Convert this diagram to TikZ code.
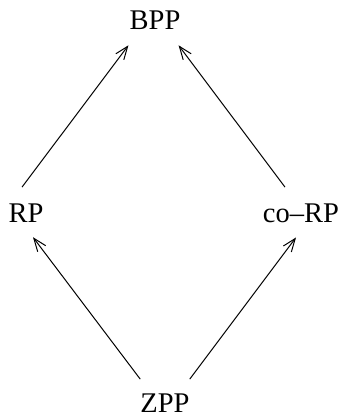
\documentclass[tikz,border=0pt]{standalone}
\usepackage{fontspec}
\setmainfont{Liberation Serif}
\usetikzlibrary{arrows.meta}
\begin{document}
\begin{tikzpicture}[x=1pt,y=-1pt,
  cls/.style={inner sep=0pt, anchor=base, font=\fontsize{28.5}{34}\selectfont},
  incl/.style={line width=1pt, -{Straight Barb[length=13pt,width=10pt,line width=1pt]}}]
  \useasboundingbox (0,0) rectangle (342,417);
  \node[cls] (BPP)  at (155,30)  {BPP};
  \node[cls] (RP)   at (26,222)  {RP};
  \node[cls] (coRP) at (301,222) {co--RP};
  \node[cls] (ZPP)  at (165,412) {ZPP};
  % inclusions, drawn from the smaller class up to the larger one
  \draw[incl] ([shift={(0pt,14pt)}]ZPP.north west) -- ([shift={(7pt,-15pt)}]RP.south);
  \draw[incl] ([shift={(0pt,14pt)}]ZPP.north east) -- ([shift={(-5pt,-15pt)}]coRP.south);
  \draw[incl] ([shift={(-4pt,16pt)}]RP.north) -- ([shift={(-1pt,-15pt)}]BPP.south west);
  \draw[incl] ([shift={(-16pt,16pt)}]coRP.north) -- ([shift={(-2pt,-15pt)}]BPP.south east);
\end{tikzpicture}
\end{document}
